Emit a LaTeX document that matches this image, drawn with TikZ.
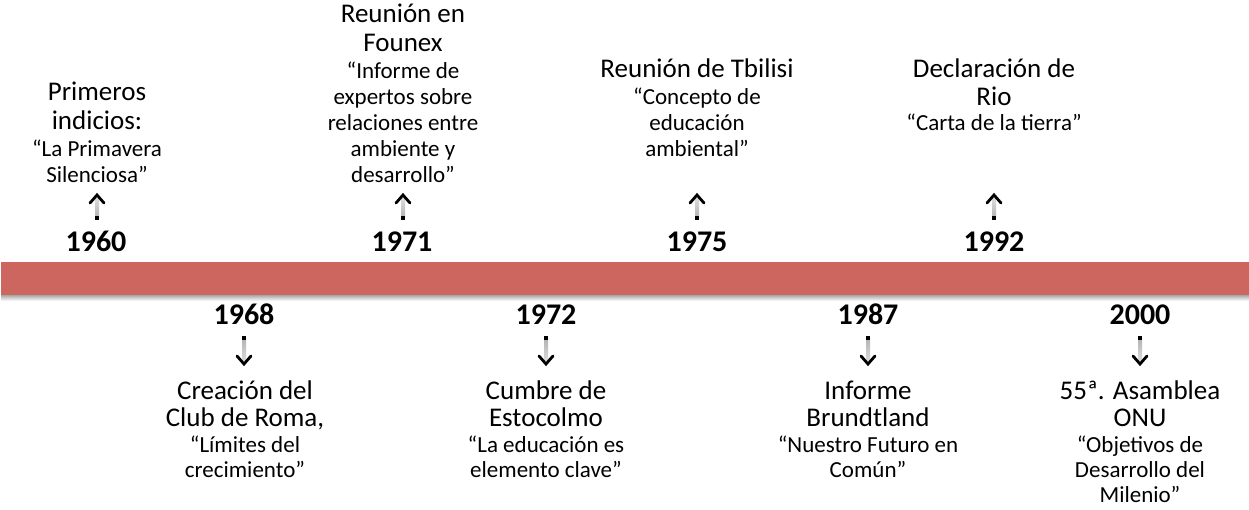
\documentclass[tikz,border=0pt]{standalone}
\usepackage{fontspec}
\setmainfont{Carlito}
\usetikzlibrary{calc}
\definecolor{barred}{RGB}{205,102,95}
\tikzset{
  x=1pt, y=-1pt,
  yearlbl/.style={font=\fontsize{30}{30}\selectfont\bfseries, inner sep=0pt, anchor=base},
  titlelbl/.style={font=\fontsize{27}{27}\selectfont, inner sep=0pt, anchor=base},
  quotelbl/.style={font=\fontsize{23}{23}\selectfont, inner sep=0pt, anchor=base},
  chev/.style={line width=2.8pt, line cap=round, line join=miter},
  dotmark/.style={fill=black, inner sep=0pt, minimum size=3.4pt, rectangle}
}
\newcommand\myuparr[2]{% name, x
  \coordinate (#1b) at (#2,218);
  \coordinate (#1t) at (#2,195);
  \shade[top color=gray!30, bottom color=gray!60] ($(#1b)+(-2,0)$) rectangle ($(#1t)+(2,4)$);
  \node[dotmark] at (#1b) {};
  \draw[chev] ($(#1t)+(-7,8)$) -- (#1t) -- ($(#1t)+(7,8)$);
}
\newcommand\mydownarr[2]{% name, x
  \coordinate (#1b) at (#2,338);
  \coordinate (#1t) at (#2,364);
  \shade[top color=gray!60, bottom color=gray!30] ($(#1b)+(-2,0)$) rectangle ($(#1t)+(2,-4)$);
  \node[dotmark] at (#1b) {};
  \draw[chev] ($(#1t)+(-7,-8)$) -- (#1t) -- ($(#1t)+(7,-8)$);
}
\newcommand\tline[4]{\node[titlelbl] (#1) at (#2,#3) {#4};}
\newcommand\qline[4]{\node[quotelbl] (#1) at (#2,#3) {#4};}
\begin{document}
\begin{tikzpicture}
\useasboundingbox (0,0) rectangle (1249,510);
\fill[white] (0,0) rectangle (1249,510);
% bar
\shade[top color=black!40, bottom color=white] (1,294) rectangle (1249,301);
\fill[barred] (1,262) rectangle (1249,295);
% years
\node[yearlbl] (y1960) at (96,252) {1960};
\node[yearlbl] (y1971) at (402,252) {1971};
\node[yearlbl] (y1975) at (697,252) {1975};
\node[yearlbl] (y1992) at (994,252) {1992};
\node[yearlbl] (y1968) at (244,324) {1968};
\node[yearlbl] (y1972) at (546,324) {1972};
\node[yearlbl] (y1987) at (868,324) {1987};
\node[yearlbl] (y2000) at (1140,324) {2000};
% arrows
\myuparr{a1960}{97}
\myuparr{a1971}{403}
\myuparr{a1975}{697}
\myuparr{a1992}{994}
\mydownarr{a1968}{244}
\mydownarr{a1972}{546}
\mydownarr{a1987}{868}
\mydownarr{a2000}{1140}
% 1960
\tline{t1960a}{97}{101}{Primeros}
\tline{t1960b}{97}{130}{indicios:}
\qline{q1960a}{97}{157}{“La Primavera}
\qline{q1960b}{97}{183}{Silenciosa”}
% 1971
\tline{t1971a}{403}{23}{Reunión en}
\tline{t1971b}{403}{52}{Founex}
\qline{q1971a}{403}{79}{“Informe de}
\qline{q1971b}{403}{105}{expertos sobre}
\qline{q1971c}{403}{131}{relaciones entre}
\qline{q1971d}{403}{157}{ambiente y}
\qline{q1971e}{403}{183}{desarrollo”}
% 1975
\tline{t1975a}{697}{78}{Reunión de Tbilisi}
\qline{q1975a}{697}{105}{“Concepto de}
\qline{q1975b}{697}{131}{educación}
\qline{q1975c}{697}{157}{ambiental”}
% 1992
\tline{t1992a}{994}{78}{Declaración de}
\tline{t1992b}{994}{106}{Rio}
\qline{q1992a}{994}{131}{“Carta de la tierra”}
% 1968
\tline{t1968a}{245}{399}{Creación del}
\tline{t1968b}{245}{426}{Club de Roma,}
\qline{q1968a}{245}{452}{“Límites del}
\qline{q1968b}{245}{477}{crecimiento”}
% 1972
\tline{t1972a}{546}{399}{Cumbre de}
\tline{t1972b}{546}{426}{Estocolmo}
\qline{q1972a}{546}{452}{“La educación es}
\qline{q1972b}{546}{477}{elemento clave”}
% 1987
\tline{t1987a}{868}{399}{Informe}
\tline{t1987b}{868}{426}{Brundtland}
\qline{q1987a}{868}{452}{“Nuestro Futuro en}
\qline{q1987b}{868}{477}{Común”}
% 2000
\tline{t2000a}{1140}{399}{55ª. Asamblea}
\tline{t2000b}{1140}{426}{ONU}
\qline{q2000a}{1140}{452}{“Objetivos de}
\qline{q2000b}{1140}{477}{Desarrollo del}
\qline{q2000c}{1140}{502}{Milenio”}
\end{tikzpicture}
\end{document}
